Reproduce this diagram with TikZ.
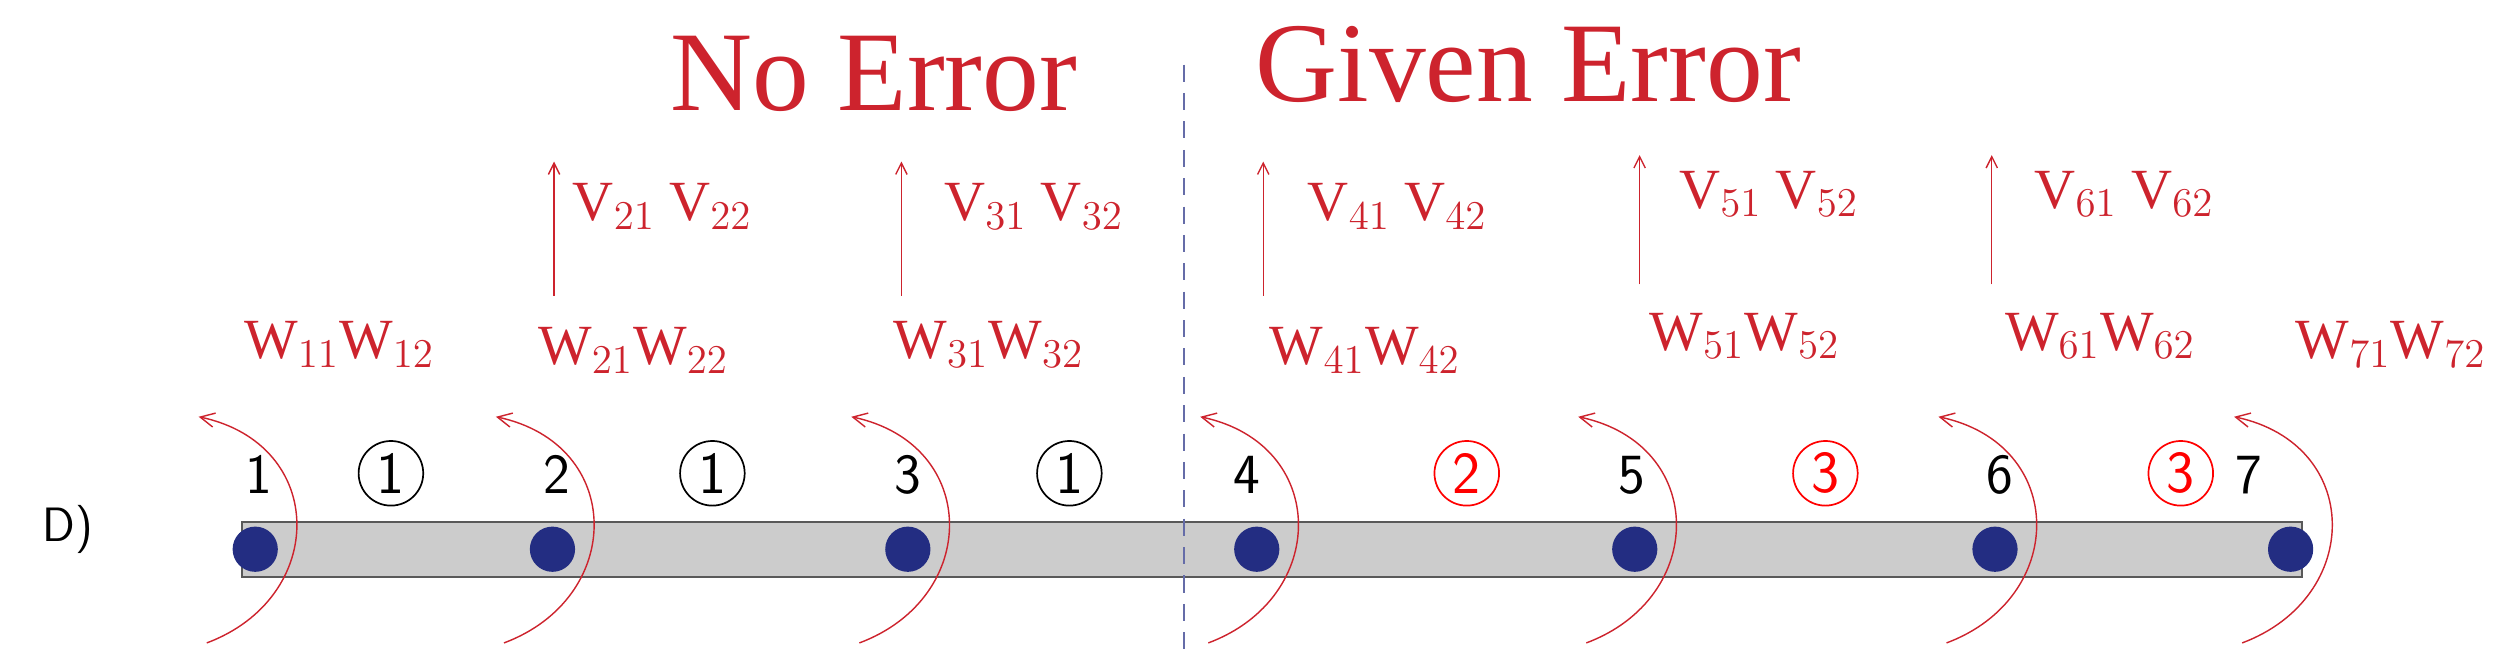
\documentclass[tikz,border=0pt]{standalone}
\usepackage{fontspec}
\setmainfont{Liberation Serif}
\usetikzlibrary{arrows.meta}
\definecolor{myred}{RGB}{205,35,45}
\definecolor{navy}{RGB}{35,45,130}
\begin{document}
\begin{tikzpicture}[x=0.02cm,y=-0.02cm,
  dot/.style={circle,fill=navy,inner sep=0,minimum size=28*0.02cm},
  num/.style={font=\fontsize{20}{22}\selectfont\sffamily},
  cnum/.style={circle,draw,line width=0.6pt,inner sep=0,minimum size=40*0.02cm,font=\fontsize{21}{23}\selectfont\sffamily},
  lab/.style={text=myred,font=\fontsize{20}{22}\selectfont},
  ttl/.style={text=myred,font=\fontsize{40}{42}\selectfont},
  up/.style={myred,line width=0.5pt,-{Straight Barb[length=4pt,width=4pt]}},
  arc/.style={myred,line width=0.5pt,-{Straight Barb[length=5pt,width=5pt]}}]
\useasboundingbox (0,0) rectangle (1560,408.6);
\fill[gray!40,draw=gray!70!black,line width=0.6pt] (150,323) rectangle (1425,357);
\foreach \i/\x in {1/158,2/342,3/562,4/778,5/1012,6/1235,7/1418}{
  \node[dot] (n\i) at (\x,340) {};
  \coordinate (s\i) at (\x-30,398);
  \coordinate (e\i) at (\x-35,258);
  \draw[arc] (s\i) .. controls (\x+45,370) and (\x+45,275) .. (e\i);
}
\foreach \i/\x in {1/160,2/345,3/562,4/772,5/1010,6/1238,7/1392}
  \node[num] (t\i) at (\x,294) {\i};
\node[cnum] (c1) at (242,293) {1};
\node[cnum] (c2) at (441,293) {1};
\node[cnum] (c3) at (662,293) {1};
\node[cnum,draw=red,text=red] (c4) at (908,293) {2};
\node[cnum,draw=red,text=red] (c5) at (1130,293) {3};
\node[cnum,draw=red,text=red] (c6) at (1350,293) {3};
\coordinate (dtop) at (733,40);
\coordinate (dbot) at (733,408);
\draw[navy!70,dashed,line width=0.5pt,dash pattern=on 6pt off 4pt] (dtop) -- (dbot);
\node[ttl] (ne) at (541,46) {No Error};
\node[ttl] (ge) at (946,40) {Given Error};
\node[font=\fontsize{17}{19}\selectfont\sffamily] (d) at (42,328) {D)};
\node[lab] (w1) at (210,213) {W$_{11}$W$_{12}$};
\node[lab] (w2) at (392,217) {W$_{21}$W$_{22}$};
\node[lab] (w3) at (612,213) {W$_{31}$W$_{32}$};
\node[lab] (w4) at (845,217) {W$_{41}$W$_{42}$};
\node[lab] (w5) at (1080,208) {W$_{51}$W$_{52}$};
\node[lab] (w6) at (1300,208) {W$_{61}$W$_{62}$};
\node[lab] (w7) at (1480,213) {W$_{71}$W$_{72}$};
\node[lab] (v2) at (410,128) {V$_{21}$ V$_{22}$};
\node[lab] (v3) at (640,128) {V$_{31}$ V$_{32}$};
\node[lab] (v4) at (865,128) {V$_{41}$ V$_{42}$};
\node[lab] (v5) at (1095,120) {V$_{51}$ V$_{52}$};
\node[lab] (v6) at (1315,120) {V$_{61}$ V$_{62}$};
\foreach \x/\a/\b in {343/183/100,558/183/100,782/183/100,1015/176/96,1233/176/96}{
  \coordinate (a\x) at (\x,\a); \coordinate (b\x) at (\x,\b);
  \draw[up] (a\x) -- (b\x);
}
\end{tikzpicture}
\end{document}
